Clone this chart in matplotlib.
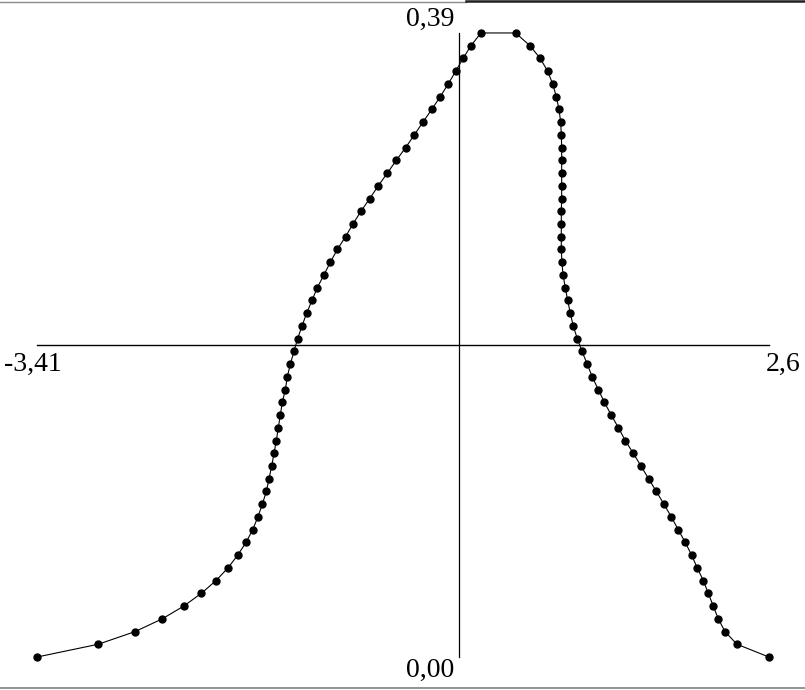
import matplotlib
matplotlib.use('Agg')
import matplotlib.pyplot as plt
from matplotlib.lines import Line2D

# density values (same levels on both sides of the peak)
dens = [0.0000, 0.0080, 0.0159, 0.0239, 0.0318, 0.0398, 0.0478, 0.0557, 0.0637, 0.0716,
        0.0796, 0.0876, 0.0955, 0.1035, 0.1114, 0.1194, 0.1273, 0.1353, 0.1433, 0.1512,
        0.1592, 0.1671, 0.1751, 0.1831, 0.1910, 0.1990, 0.2069, 0.2149, 0.2229, 0.2308,
        0.2388, 0.2467, 0.2547, 0.2627, 0.2706, 0.2786, 0.2865, 0.2945, 0.3024, 0.3104,
        0.3184, 0.3263, 0.3343, 0.3422, 0.3502, 0.3582, 0.3661, 0.3741, 0.3820, 0.3900]

# x values of the rising (left) branch, bottom to top
x_left = [-3.410, -2.907, -2.605, -2.381, -2.206, -2.061, -1.940, -1.842, -1.762, -1.694,
          -1.639, -1.596, -1.560, -1.527, -1.505, -1.483, -1.464, -1.445, -1.429, -1.412,
          -1.396, -1.371, -1.355, -1.330, -1.300, -1.270, -1.234, -1.196, -1.152, -1.109,
          -1.054, -1.002, -0.944, -0.877, -0.816, -0.750, -0.678, -0.608, -0.534, -0.460,
          -0.383, -0.312, -0.241, -0.169, -0.099, -0.033, 0.028, 0.088, 0.153, 0.235]

# x values of the falling (right) branch, bottom to top
x_right = [2.600, 2.337, 2.239, 2.184, 2.143, 2.102, 2.061, 2.011, 1.965, 1.913,
           1.855, 1.798, 1.738, 1.675, 1.612, 1.549, 1.486, 1.420, 1.364, 1.305,
           1.249, 1.199, 1.149, 1.108, 1.065, 1.026, 0.993, 0.969, 0.947, 0.928,
           0.909, 0.900, 0.895, 0.895, 0.895, 0.895, 0.898, 0.898, 0.898, 0.898,
           0.898, 0.895, 0.890, 0.876, 0.854, 0.824, 0.783, 0.722, 0.638, 0.520]

x_min, x_max = -3.41, 2.6
y_min, y_max = 0.0, 0.39
x_axis_pos = 0.055          # where the vertical axis line sits
y_axis_pos = (y_min + y_max) / 2

xs = x_left + x_right[::-1]
ys = dens + dens[::-1]

fig = plt.figure(figsize=(8.05, 6.9), dpi=100)
ax = fig.add_axes([0, 0, 1, 1])
ax.set_xlim(-3.714, 2.896)
ax.set_ylim(-0.0206, 0.4106)
ax.axis('off')

# axes crossing in the middle
ax.plot([x_min, x_max], [y_axis_pos, y_axis_pos], color='black', lw=1.0)
ax.plot([x_axis_pos, x_axis_pos], [y_min, y_max], color='black', lw=0.9)

ax.plot(xs, ys, color='black', lw=0.8, marker='o', markersize=5, zorder=3)

fnt = dict(family='Liberation Serif', size=20, color='black')
ax.annotate('-3,41', (x_min, y_axis_pos), xytext=(-24, -5), textcoords='offset points',
            ha='left', va='top', **fnt)
ax.annotate('2,6', (x_max, y_axis_pos), xytext=(23, -5), textcoords='offset points',
            ha='right', va='top', **fnt)
ax.annotate('0,39', (x_axis_pos, y_max), xytext=(-3.5, 5), textcoords='offset points',
            ha='right', va='baseline', **fnt)
ax.annotate('0,00', (x_axis_pos, y_min), xytext=(-3.5, -14.5), textcoords='offset points',
            ha='right', va='baseline', **fnt)

# window border lines
fig.add_artist(Line2D([0, 466 / 805], [1 - 1.5 / 690] * 2, color='#8a8a8a', lw=1.0))
fig.add_artist(Line2D([466 / 805, 1], [1 - 1.2 / 690] * 2, color='#202020', lw=1.8))
fig.add_artist(Line2D([0, 1], [2.0 / 690] * 2, color='#808080', lw=1.2))

plt.savefig('out.png', dpi=100)
